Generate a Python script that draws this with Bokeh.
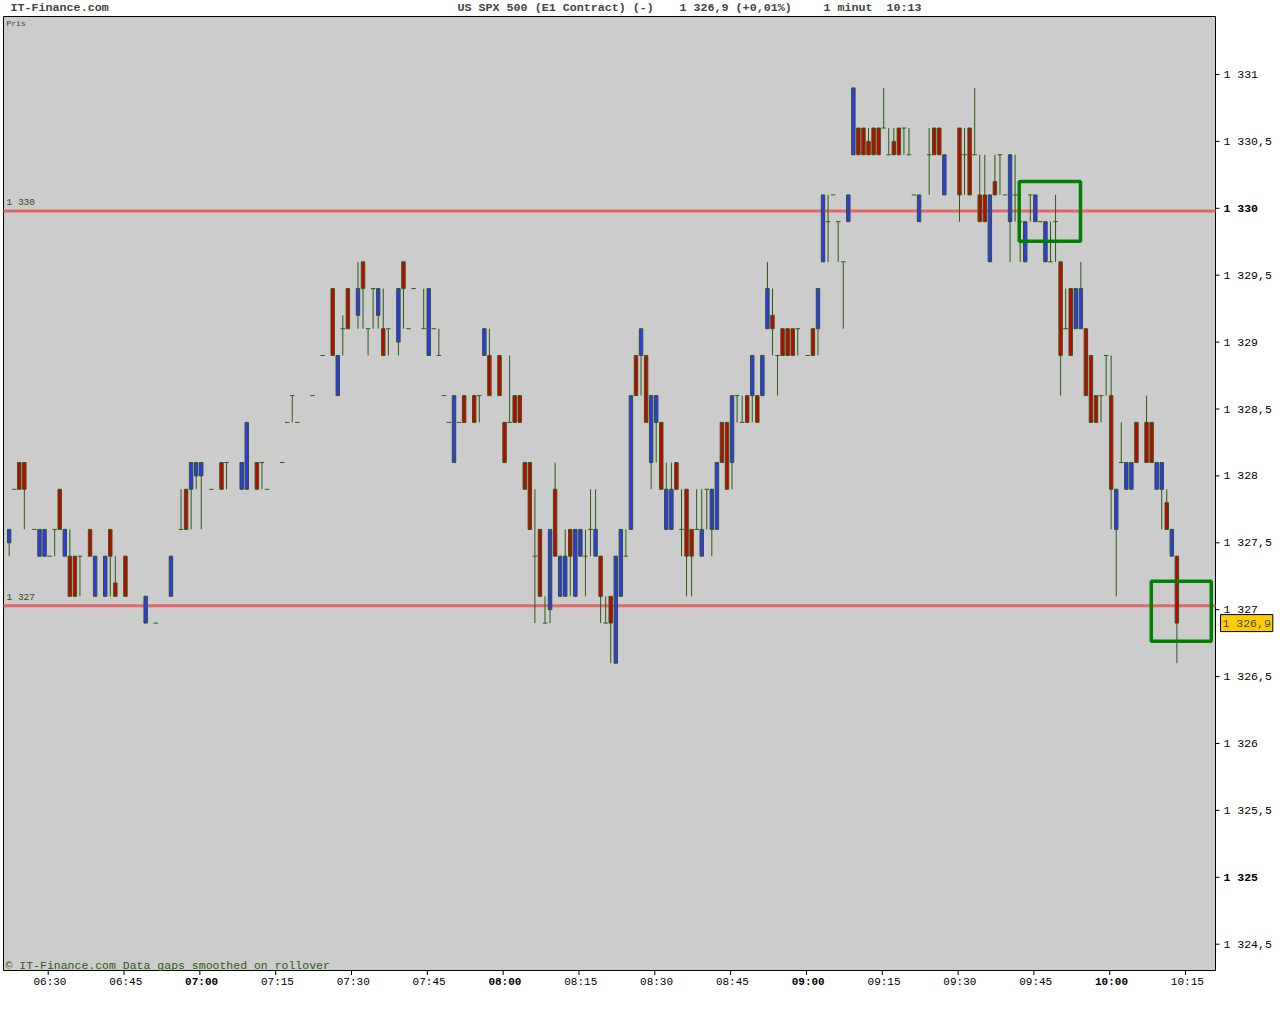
import pandas as pd
from bokeh.plotting import figure
from bokeh.models import Label, Range1d
from bokeh.core.properties import value
from bokeh.embed import file_html
from bokeh.resources import INLINE

# 1 minute bars, US SPX 500 (E1 Contract), 06:22 - 10:13 (missing minutes = no trades)
times = [
    "06:22", "06:23", "06:24", "06:25", "06:27", "06:28", "06:29", "06:30", "06:31", "06:32",
    "06:33", "06:34", "06:35", "06:36", "06:38", "06:39", "06:41", "06:42", "06:43", "06:45",
    "06:49", "06:51", "06:54", "06:56", "06:57", "06:58", "06:59", "07:00", "07:02", "07:04",
    "07:05", "07:08", "07:09", "07:11", "07:12", "07:13", "07:16", "07:17", "07:18", "07:19",
    "07:22", "07:24", "07:26", "07:27", "07:28", "07:29", "07:31", "07:32", "07:33", "07:34",
    "07:35", "07:36", "07:37", "07:39", "07:40", "07:41", "07:42", "07:44", "07:45", "07:46",
    "07:47", "07:48", "07:49", "07:50", "07:51", "07:52", "07:54", "07:55", "07:56", "07:57",
    "07:59", "08:00", "08:01", "08:02", "08:03", "08:04", "08:05", "08:06", "08:07", "08:08",
    "08:09", "08:10", "08:11", "08:12", "08:13", "08:14", "08:15", "08:16", "08:17", "08:18",
    "08:19", "08:20", "08:21", "08:22", "08:23", "08:24", "08:25", "08:26", "08:27", "08:28",
    "08:29", "08:30", "08:31", "08:32", "08:33", "08:34", "08:35", "08:36", "08:37", "08:38",
    "08:39", "08:40", "08:41", "08:42", "08:43", "08:44", "08:45", "08:46", "08:47", "08:48",
    "08:49", "08:50", "08:51", "08:52", "08:53", "08:54", "08:55", "08:56", "08:57", "08:58",
    "09:00", "09:01", "09:02", "09:03", "09:04", "09:05", "09:06", "09:07", "09:08", "09:09",
    "09:10", "09:11", "09:12", "09:13", "09:14", "09:15", "09:16", "09:17", "09:18", "09:19",
    "09:20", "09:21", "09:22", "09:24", "09:25", "09:26", "09:27", "09:30", "09:31", "09:32",
    "09:33", "09:34", "09:35", "09:36", "09:37", "09:38", "09:39", "09:40", "09:41", "09:42",
    "09:43", "09:44", "09:45", "09:46", "09:47", "09:48", "09:49", "09:50", "09:51", "09:52",
    "09:53", "09:54", "09:55", "09:56", "09:57", "09:58", "09:59", "10:00", "10:01", "10:02",
    "10:03", "10:04", "10:05", "10:07", "10:08", "10:09", "10:10", "10:11", "10:12", "10:13",
]
opens = [
    1327.5, 1327.9, 1328.1, 1328.1, 1327.6, 1327.4, 1327.4, 1327.4, 1327.6, 1327.9,
    1327.4, 1327.4, 1327.4, 1327.4, 1327.6, 1327.1, 1327.1, 1327.6, 1327.2, 1327.4,
    1326.9, 1326.9, 1327.1, 1327.6, 1327.9, 1327.9, 1328.0, 1328.0, 1327.9, 1328.1,
    1328.1, 1327.9, 1327.9, 1328.1, 1328.1, 1327.9, 1328.1, 1328.4, 1328.6, 1328.4,
    1328.6, 1328.9, 1329.4, 1328.6, 1329.1, 1329.4, 1329.2, 1329.6, 1329.1, 1329.4,
    1329.2, 1329.1, 1329.1, 1329.0, 1329.6, 1329.1, 1329.4, 1329.1, 1328.9, 1329.1,
    1328.9, 1328.6, 1328.4, 1328.1, 1328.4, 1328.6, 1328.6, 1328.6, 1328.9, 1328.9,
    1328.9, 1328.4, 1328.4, 1328.6, 1328.6, 1328.1, 1328.1, 1327.4, 1327.6, 1326.9,
    1327.0, 1327.9, 1327.1, 1327.1, 1327.6, 1327.1, 1327.4, 1327.4, 1327.6, 1327.4,
    1327.4, 1326.9, 1327.1, 1326.6, 1327.1, 1327.4, 1327.6, 1328.9, 1328.9, 1328.9,
    1328.1, 1328.4, 1328.4, 1327.6, 1327.6, 1328.1, 1327.6, 1327.9, 1327.6, 1327.6,
    1327.4, 1327.9, 1327.6, 1327.6, 1328.4, 1328.4, 1328.1, 1328.6, 1328.4, 1328.6,
    1328.6, 1328.6, 1328.6, 1329.1, 1329.2, 1328.9, 1329.1, 1329.1, 1329.1, 1329.1,
    1328.9, 1329.1, 1329.1, 1329.6, 1329.9, 1330.1, 1329.9, 1329.6, 1329.9, 1330.4,
    1330.6, 1330.6, 1330.5, 1330.6, 1330.6, 1330.6, 1330.4, 1330.5, 1330.6, 1330.6,
    1330.4, 1330.1, 1329.9, 1330.4, 1330.6, 1330.6, 1330.1, 1330.6, 1330.4, 1330.6,
    1330.4, 1330.1, 1330.1, 1329.6, 1330.2, 1330.4, 1330.1, 1329.9, 1330.1, 1329.9,
    1329.6, 1330.1, 1329.9, 1329.9, 1329.6, 1329.6, 1329.9, 1329.6, 1329.1, 1329.4,
    1329.1, 1329.1, 1329.1, 1328.9, 1328.6, 1328.6, 1328.9, 1328.6, 1327.6, 1328.1,
    1327.9, 1327.9, 1328.4, 1328.4, 1328.4, 1327.9, 1327.9, 1327.8, 1327.4, 1327.4,
]
highs = [
    1327.6, 1327.9, 1328.1, 1328.1, 1327.6, 1327.6, 1327.6, 1327.4, 1327.6, 1327.9,
    1327.6, 1327.6, 1327.4, 1327.4, 1327.6, 1327.4, 1327.4, 1327.6, 1327.4, 1327.4,
    1327.1, 1326.9, 1327.4, 1327.9, 1327.9, 1328.1, 1328.1, 1328.1, 1327.9, 1328.1,
    1328.1, 1328.1, 1328.4, 1328.1, 1328.1, 1327.9, 1328.1, 1328.4, 1328.6, 1328.4,
    1328.6, 1328.9, 1329.4, 1328.9, 1329.2, 1329.4, 1329.6, 1329.6, 1329.1, 1329.4,
    1329.4, 1329.4, 1329.1, 1329.4, 1329.6, 1329.1, 1329.4, 1329.4, 1329.4, 1329.1,
    1329.1, 1328.6, 1328.4, 1328.6, 1328.4, 1328.6, 1328.6, 1328.6, 1329.1, 1329.1,
    1328.9, 1328.4, 1328.9, 1328.6, 1328.6, 1328.1, 1328.1, 1327.9, 1327.6, 1327.1,
    1327.6, 1328.1, 1327.4, 1327.6, 1327.6, 1327.6, 1327.6, 1327.6, 1327.9, 1327.9,
    1327.4, 1327.1, 1327.1, 1327.4, 1327.6, 1327.6, 1328.6, 1328.9, 1329.1, 1328.9,
    1328.6, 1328.6, 1328.4, 1328.1, 1328.1, 1328.1, 1327.9, 1327.9, 1327.6, 1327.9,
    1327.9, 1327.9, 1327.9, 1328.1, 1328.4, 1328.4, 1328.6, 1328.6, 1328.6, 1328.6,
    1328.9, 1328.6, 1328.9, 1329.6, 1329.4, 1328.9, 1329.1, 1329.1, 1329.1, 1329.1,
    1328.9, 1329.1, 1329.4, 1330.1, 1330.1, 1330.1, 1329.9, 1329.6, 1330.1, 1330.9,
    1330.6, 1330.6, 1330.6, 1330.6, 1330.6, 1330.9, 1330.6, 1330.6, 1330.6, 1330.6,
    1330.6, 1330.1, 1330.1, 1330.6, 1330.6, 1330.6, 1330.4, 1330.6, 1330.6, 1330.6,
    1330.9, 1330.4, 1330.4, 1330.1, 1330.4, 1330.4, 1330.1, 1330.4, 1330.4, 1329.9,
    1329.9, 1330.1, 1330.1, 1329.9, 1329.9, 1329.9, 1330.1, 1329.6, 1329.4, 1329.4,
    1329.4, 1329.6, 1329.1, 1328.9, 1328.6, 1328.6, 1328.9, 1328.9, 1327.9, 1328.4,
    1328.1, 1328.1, 1328.4, 1328.6, 1328.4, 1328.1, 1328.1, 1327.9, 1327.6, 1327.4,
]
lows = [
    1327.4, 1327.9, 1327.9, 1327.6, 1327.6, 1327.4, 1327.4, 1327.4, 1327.4, 1327.6,
    1327.4, 1327.1, 1327.1, 1327.1, 1327.4, 1327.1, 1327.1, 1327.1, 1327.1, 1327.1,
    1326.9, 1326.9, 1327.1, 1327.6, 1327.6, 1327.6, 1327.9, 1327.6, 1327.9, 1327.9,
    1327.9, 1327.9, 1327.9, 1327.9, 1327.9, 1327.9, 1328.1, 1328.4, 1328.4, 1328.4,
    1328.6, 1328.9, 1328.9, 1328.6, 1328.9, 1329.1, 1329.1, 1329.1, 1328.9, 1329.1,
    1329.1, 1328.9, 1328.9, 1328.9, 1329.1, 1329.1, 1329.4, 1329.1, 1328.9, 1329.1,
    1328.9, 1328.6, 1328.4, 1328.1, 1328.4, 1328.4, 1328.4, 1328.4, 1328.9, 1328.6,
    1328.6, 1328.1, 1328.4, 1328.4, 1328.4, 1327.9, 1327.6, 1326.9, 1327.1, 1326.9,
    1326.9, 1327.4, 1327.1, 1327.1, 1327.1, 1327.1, 1327.4, 1327.1, 1327.4, 1327.4,
    1326.9, 1326.9, 1326.6, 1326.6, 1327.1, 1327.4, 1327.6, 1328.6, 1328.6, 1328.4,
    1327.9, 1328.1, 1327.9, 1327.6, 1327.6, 1327.9, 1327.4, 1327.1, 1327.1, 1327.6,
    1327.4, 1327.6, 1327.4, 1327.6, 1328.1, 1327.9, 1327.9, 1328.4, 1328.4, 1328.4,
    1328.4, 1328.4, 1328.6, 1329.1, 1328.9, 1328.6, 1328.9, 1328.9, 1328.9, 1328.9,
    1328.9, 1328.9, 1328.9, 1329.6, 1329.6, 1330.1, 1329.6, 1329.1, 1329.9, 1330.4,
    1330.4, 1330.4, 1330.4, 1330.4, 1330.4, 1330.6, 1330.4, 1330.4, 1330.4, 1330.4,
    1330.4, 1330.1, 1329.9, 1330.1, 1330.4, 1330.4, 1330.1, 1329.9, 1330.1, 1330.1,
    1330.4, 1329.9, 1329.9, 1329.6, 1330.1, 1330.1, 1330.1, 1329.6, 1329.9, 1329.6,
    1329.6, 1329.9, 1329.9, 1329.9, 1329.6, 1329.6, 1329.6, 1328.6, 1329.1, 1328.9,
    1329.1, 1329.1, 1328.6, 1328.4, 1328.4, 1328.4, 1328.6, 1327.6, 1327.1, 1328.1,
    1327.9, 1327.9, 1328.1, 1328.1, 1328.1, 1327.9, 1327.6, 1327.6, 1327.4, 1326.6,
]
closes = [
    1327.6, 1327.9, 1327.9, 1327.9, 1327.6, 1327.6, 1327.6, 1327.4, 1327.6, 1327.6,
    1327.6, 1327.1, 1327.1, 1327.4, 1327.4, 1327.4, 1327.4, 1327.4, 1327.1, 1327.1,
    1327.1, 1326.9, 1327.4, 1327.6, 1327.6, 1328.1, 1328.1, 1328.1, 1327.9, 1327.9,
    1328.1, 1328.1, 1328.4, 1327.9, 1328.1, 1327.9, 1328.1, 1328.4, 1328.6, 1328.4,
    1328.6, 1328.9, 1328.9, 1328.9, 1329.1, 1329.1, 1329.4, 1329.4, 1329.1, 1329.4,
    1329.4, 1328.9, 1329.1, 1329.4, 1329.4, 1329.1, 1329.4, 1329.1, 1329.4, 1329.1,
    1328.9, 1328.6, 1328.4, 1328.6, 1328.4, 1328.4, 1328.4, 1328.6, 1329.1, 1328.6,
    1328.6, 1328.1, 1328.4, 1328.4, 1328.4, 1327.9, 1327.6, 1327.4, 1327.1, 1326.9,
    1327.6, 1327.4, 1327.4, 1327.4, 1327.4, 1327.6, 1327.6, 1327.4, 1327.6, 1327.6,
    1327.1, 1326.9, 1326.9, 1327.4, 1327.6, 1327.4, 1328.6, 1328.6, 1329.1, 1328.4,
    1328.6, 1328.6, 1327.9, 1327.9, 1327.9, 1327.9, 1327.6, 1327.4, 1327.4, 1327.6,
    1327.6, 1327.9, 1327.9, 1328.1, 1328.1, 1327.9, 1328.6, 1328.6, 1328.4, 1328.4,
    1328.9, 1328.4, 1328.9, 1329.4, 1329.1, 1328.9, 1328.9, 1328.9, 1328.9, 1329.1,
    1328.9, 1328.9, 1329.4, 1330.1, 1329.9, 1330.1, 1329.9, 1329.6, 1330.1, 1330.9,
    1330.4, 1330.4, 1330.4, 1330.4, 1330.4, 1330.6, 1330.4, 1330.4, 1330.4, 1330.6,
    1330.4, 1330.1, 1330.1, 1330.4, 1330.4, 1330.4, 1330.4, 1330.1, 1330.4, 1330.1,
    1330.4, 1329.9, 1329.9, 1330.1, 1330.1, 1330.4, 1330.1, 1330.4, 1330.1, 1329.9,
    1329.9, 1330.1, 1330.1, 1329.9, 1329.9, 1329.6, 1329.9, 1328.9, 1329.1, 1328.9,
    1329.4, 1329.4, 1328.6, 1328.4, 1328.4, 1328.6, 1328.9, 1327.9, 1327.9, 1328.1,
    1328.1, 1328.1, 1328.1, 1328.1, 1328.1, 1328.1, 1328.1, 1327.6, 1327.6, 1326.9,
]

price_ticks = [1324.5, 1325.0, 1325.5, 1326.0, 1326.5, 1327.0, 1327.5,
               1328.0, 1328.5, 1329.0, 1329.5, 1330.0, 1330.5, 1331.0]
price_labels = ["1 324,5", "1 325", "1 325,5", "1 326", "1 326,5", "1 327", "1 327,5",
                "1 328", "1 328,5", "1 329", "1 329,5", "1 330", "1 330,5", "1 331"]
bold_prices = [1325.0, 1330.0]

time_ticks = ["06:30", "06:45", "07:00", "07:15", "07:30", "07:45", "08:00", "08:15",
              "08:30", "08:45", "09:00", "09:15", "09:30", "09:45", "10:00", "10:15"]
bold_times = ["07:00", "08:00", "09:00", "10:00"]

levels = [1329.98, 1327.03]
level_names = ["1 330", "1 327"]
last_price = 1326.9
last_text = "1 326,9"

# highlighted squares: centre time (minutes after 06:30) and centre price
boxes_x = [198.15, 224.15]
boxes_y = [1329.977, 1326.988]
boxes_w = [12.12, 11.87]
boxes_h = [0.446, 0.448]


def minutes(t):
    h, m = t.split(":")
    return int(h) * 60 + int(m) - 390  # minutes after 06:30


df = pd.DataFrame({"t": times, "o": opens, "h": highs, "l": lows, "c": closes})
df["x"] = df["t"].map(minutes) + 0.28

# page layout: the frame covers the whole canvas, the chart box sits inside it
W, H = 1278, 1010
PPM, X0 = 5.055, 47.7     # pixels per minute, pixel column of 06:30
PPP, Y0 = 133.8, 609.2    # pixels per point, pixel row of 1 327


def px_x(px):
    return (px - X0) / PPM


def px_y(py):
    return 1327 + (Y0 - py) / PPP


FONT = value("Liberation Mono")
WICK = "#2d5a16"
GREEN_TXT = "#2d5016"

p = figure(width=W, height=H, x_range=Range1d(px_x(0), px_x(W)),
           y_range=Range1d(px_y(H), px_y(0)), x_axis_location=None, y_axis_location=None,
           title=None, min_border=0, output_backend="svg", toolbar_location=None,
           background_fill_color="white", border_fill_color="white", outline_line_color=None)
p.grid.visible = False

xl, xr, yt, yb = px_x(3), px_x(1215), px_y(16), px_y(970)
p.quad(left=[xl], right=[xr], top=[yt], bottom=[yb], fill_color="#cccccc",
       line_color="black", line_width=1)

# support / resistance lines
for lv, name in zip(levels, level_names):
    p.segment(x0=[xl], y0=[lv], x1=[xr], y1=[lv], line_color="#e06a6a", line_width=3)
    p.add_layout(Label(x=px_x(6), y=lv, y_offset=3, text=name, text_font="Liberation Mono",
                       text_font_size="9.5px", text_color=GREEN_TXT, text_baseline="bottom"))

# candles: wicks, then bodies
p.segment(df.x, df.h, df.x, df.l, line_color=WICK, line_width=1)
up = df[df.c > df.o]
dn = df[df.c < df.o]
fl = df[df.c == df.o]
p.vbar(x=up.x, bottom=up.o, top=up.c, width=0.68, fill_color="#3333ff",
       line_color=WICK, line_width=1)
p.vbar(x=dn.x, bottom=dn.c, top=dn.o, width=0.68, fill_color="#cc0000",
       line_color=WICK, line_width=1)
p.segment(fl.x - 0.45, fl.o, fl.x + 0.45, fl.c, line_color=WICK, line_width=1)

# green squares
p.rect(x=boxes_x, y=boxes_y, width=boxes_w, height=boxes_h,
       fill_alpha=0, line_color="#008000", line_width=3.5)

# price axis on the right
n = len(price_ticks)
p.segment(x0=[xr] * n, y0=price_ticks, x1=[px_x(1219)] * n, y1=price_ticks,
          line_color="black", line_width=1)
norm = [(t, lab) for t, lab in zip(price_ticks, price_labels) if t not in bold_prices]
bold = [(t, lab) for t, lab in zip(price_ticks, price_labels) if t in bold_prices]
for rows, style in ((norm, "normal"), (bold, "bold")):
    p.text(x=[px_x(1223)] * len(rows), y=[r[0] for r in rows], text=[r[1] for r in rows],
           text_font=FONT, text_font_size=value("11.5px"), text_font_style=value(style),
           text_color="black", text_align="left", text_baseline="middle")

# time axis below
tick_min = [minutes(t) for t in time_ticks]
p.segment(x0=tick_min, y0=[yb] * len(tick_min), x1=tick_min, y1=[px_y(974.5)] * len(tick_min),
          line_color="black", line_width=1)
for style in ("normal", "bold"):
    lab = [t for t in time_ticks if (t in bold_times) == (style == "bold")]
    p.text(x=[minutes(t) + 0.35 for t in lab], y=[px_y(981.5)] * len(lab), text=lab,
           text_font=FONT, text_font_size=value("11px"), text_font_style=value(style),
           text_color="black", text_align="center", text_baseline="middle")

# current price marker on the axis
p.add_layout(Label(x=px_x(1220), y=last_price, text=last_text, text_font="Liberation Mono",
                   text_font_size="11.5px", text_baseline="middle",
                   background_fill_color="#ffcc00", border_line_color="black", padding=2))

# header and notes
p.add_layout(Label(x=px_x(10), y=px_y(7.5), text="IT-Finance.com", text_font="Liberation Mono",
                   text_font_size="11.7px", text_font_style="bold", text_baseline="middle"))
header = [(457, "US SPX 500 (E1 Contract) (-)"), (679, "1 326,9 (+0,01%)"),
          (823, "1 minut"), (886, "10:13")]
for hx, txt in header:
    p.add_layout(Label(x=px_x(hx), y=px_y(7.5), text=txt, text_font="Liberation Mono",
                       text_font_size="11.7px", text_font_style="bold", text_baseline="middle"))
p.add_layout(Label(x=px_x(6), y=px_y(22.5), text="Pris", text_font="Liberation Mono",
                   text_font_size="8px", text_color=GREEN_TXT, text_baseline="middle"))
p.add_layout(Label(x=px_x(5), y=px_y(965), text="\u00a9 IT-Finance.com Data gaps smoothed on rollover",
                   text_font="Liberation Mono", text_font_size="11.5px", text_color="#2e5c12",
                   text_baseline="middle"))

open("out.html", "w").write(file_html(p, INLINE))
